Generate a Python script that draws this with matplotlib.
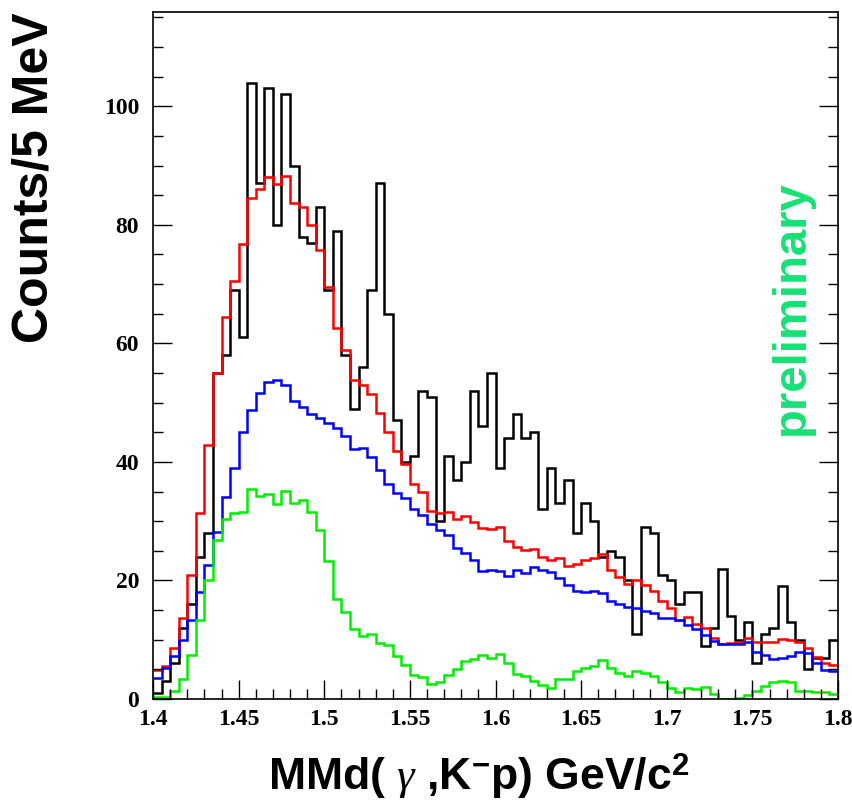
import numpy as np
import matplotlib
matplotlib.use('Agg')
import matplotlib.pyplot as plt

# 80 bins of 5 MeV between 1.4 and 1.8 GeV/c^2
x_lo, x_hi, n_bins = 1.4, 1.8, 80

data = [1, 3, 6, 12, 16, 24, 28, 55, 58, 69, 61, 104, 87, 103, 80, 102, 90, 78, 77, 83,
        69, 79, 58, 49, 56, 69, 87, 65, 47, 40, 41, 52, 51, 30, 41, 37, 40, 52, 46, 55,
        39, 44, 48, 44, 45, 32, 39, 33, 37, 28, 33, 30, 24, 25, 24, 20, 11, 29, 28, 21,
        20, 16, 18, 18, 9, 12, 22, 14, 10, 13, 6, 11, 12, 19, 13, 10, 5, 7, 7, 10]

total = [4.9, 5.5, 8.6, 13.6, 21.0, 31.3, 42.9, 55.0, 64.5, 70.6, 76.8, 84.6, 86.0, 88.1, 86.9, 88.2, 83.6, 83.0, 79.9, 75.8,
         69.5, 62.6, 58.8, 53.8, 53.0, 51.4, 48.3, 45.1, 41.8, 39.7, 36.2, 34.9, 31.7, 31.3, 31.6, 30.4, 30.8, 29.8, 28.9, 28.7,
         29.1, 26.7, 25.6, 25.2, 25.3, 24.0, 23.4, 23.8, 22.5, 22.8, 23.4, 23.8, 24.5, 21.8, 20.5, 19.4, 20.1, 19.3, 18.3, 16.5,
         15.3, 13.4, 13.9, 12.6, 12.0, 10.3, 9.2, 9.4, 9.6, 10.3, 9.6, 9.7, 9.6, 10.1, 9.9, 9.6, 8.6, 7.1, 6.1, 5.8]

comp_blue = [3.6, 5.2, 7.3, 10.0, 13.4, 18.0, 22.6, 28.2, 34.1, 38.9, 45.0, 48.8, 51.7, 53.5, 53.9, 52.9, 50.3, 49.3, 48.1, 47.4,
             46.6, 45.8, 44.3, 42.2, 42.3, 40.8, 38.7, 36.2, 34.7, 33.9, 32.0, 31.1, 29.5, 28.5, 27.7, 25.4, 24.6, 23.4, 21.6, 21.8,
             21.6, 20.8, 21.7, 21.3, 22.2, 21.8, 21.5, 20.4, 19.3, 18.3, 18.1, 18.3, 17.9, 16.6, 16.1, 15.6, 15.3, 14.9, 14.5, 13.6,
             13.7, 13.3, 12.4, 11.8, 10.8, 9.8, 9.3, 9.3, 9.3, 9.6, 7.9, 7.5, 6.7, 7.0, 7.2, 8.0, 7.8, 6.0, 4.9, 4.7]

comp_green = [0.3, 0.4, 1.3, 3.4, 7.4, 13.3, 20.1, 26.8, 30.3, 31.4, 31.5, 35.5, 34.2, 34.6, 32.9, 35.1, 33.0, 33.5, 31.6, 28.5,
              23.2, 16.9, 14.7, 11.8, 10.6, 10.9, 9.5, 9.1, 7.3, 5.8, 4.1, 3.7, 2.6, 2.9, 4.0, 5.0, 6.4, 6.7, 7.4, 6.9,
              7.6, 6.1, 4.3, 3.8, 3.0, 2.4, 1.9, 3.4, 3.3, 4.7, 5.2, 5.6, 6.5, 5.2, 4.4, 3.9, 4.8, 4.4, 3.8, 2.8,
              1.9, 1.2, 1.9, 1.7, 2.0, 0.9, 0.0, 0.05, 0.2, 0.7, 1.4, 2.2, 2.9, 3.1, 2.8, 1.4, 1.3, 1.2, 1.1, 0.9]

xtick_vals = [1.4, 1.45, 1.5, 1.55, 1.6, 1.65, 1.7, 1.75, 1.8]
xtick_labels = ['1.4', '1.45', '1.5', '1.55', '1.6', '1.65', '1.7', '1.75', '1.8']
ytick_vals = [0, 20, 40, 60, 80, 100]

plt.rcParams['mathtext.fontset'] = 'custom'
plt.rcParams['mathtext.rm'] = 'Liberation Sans:bold'
plt.rcParams['mathtext.bf'] = 'Liberation Sans:bold'
plt.rcParams['mathtext.it'] = 'Liberation Serif:italic'

fig = plt.figure(figsize=(8.52, 8.11), dpi=100)
ax = fig.add_axes([153/852, 1 - 699/811, 685/852, 687/811])

edges = np.linspace(x_lo, x_hi, n_bins + 1)
ax.stairs(data, edges, color='black', lw=1.8, baseline=None)
ax.stairs(total, edges, color='#ff0000', lw=1.8, baseline=None)
ax.stairs(comp_blue, edges, color='#0000ff', lw=1.8, baseline=None)
ax.stairs(comp_green, edges, color='#00ee00', lw=1.8, baseline=None)

ax.set_xlim(x_lo, x_hi)
ax.set_ylim(0, 115.9)

ax.set_xticks(xtick_vals)
ax.set_xticklabels(xtick_labels)
ax.set_xticks(np.arange(1.4, 1.8001, 0.01), minor=True)
ax.set_yticks(ytick_vals)
ax.set_yticks(np.arange(0, 116, 5), minor=True)
ax.tick_params(which='both', direction='in', right=True, top=False, width=1)
ax.tick_params(which='major', length=14)
ax.tick_params(which='minor', length=7)
ax.tick_params(axis='y', pad=10)
ax.tick_params(axis='x', pad=7)
for lab in ax.get_xticklabels() + ax.get_yticklabels():
    lab.set_fontfamily('Liberation Serif')
    lab.set_fontweight('bold')
    lab.set_fontsize(17)
for sp in ax.spines.values():
    sp.set_linewidth(1.2)

fig.text(35/852, 1 - 178/811, 'Counts/5 MeV', rotation=90, ha='center', va='center',
         family='Liberation Sans', weight='bold', fontsize=36)
fig.text(479/852, 1 - 776/811, r'MMd( $\gamma$ ,K$^{-}$p) GeV/c$^{2}$', ha='center', va='center',
         family='Liberation Sans', weight='bold', fontsize=32)
fig.text(792/852, 1 - 308/811, 'preliminary', rotation=90, ha='center', va='center',
         family='Liberation Sans', weight='bold', fontsize=34, color='#19e077')

fig.savefig('out.png', dpi=100)
